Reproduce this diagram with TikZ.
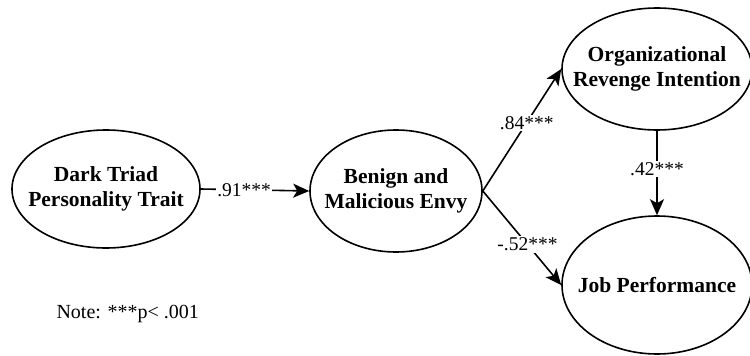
\documentclass[tikz,border=0pt]{standalone}
\usepackage{fontspec}
\setmainfont{Liberation Serif}
\usetikzlibrary{shapes.geometric, arrows.meta}

\begin{document}
\begin{tikzpicture}[x=1pt, y=-1pt,
  latent/.style={draw, ellipse, line width=1.6pt, inner xsep=-30pt, inner ysep=-15pt, align=center,
    font=\bfseries\fontsize{21.5}{25}\selectfont},
  link/.style={-{Stealth[length=16pt, width=14pt, inset=4pt]}, line width=1.6pt},
  coef/.style={fill=white, inner sep=1.5pt, font=\fontsize{19.5}{22}\selectfont}]
  \useasboundingbox (0,0) rectangle (750,356);
  \clip (0,0) rectangle (750,356);

  % constructs
  \node[latent, minimum width=188pt, minimum height=118pt] (dark) at (106,189) {Dark Triad\\Personality Trait};
  \node[latent, minimum width=172pt, minimum height=122pt] (envy) at (396,191) {Benign and\\Malicious Envy};
  \node[latent, minimum width=190pt, minimum height=122pt] (revenge) at (657,69) {Organizational\\Revenge Intention};
  \node[latent, minimum width=190pt, minimum height=138pt] (perf) at (657,285) {Job Performance};

  % paths
  \draw[link] (dark.east) -- (envy.west) node[coef, pos=0.4] {.91***};
  \draw[link] (envy.east) -- (revenge.west) node[coef, pos=0.56] {.84***};
  \draw[link] (envy.east) -- (perf.west) node[coef, pos=0.57] {-.52***};
  \draw[link] (revenge.south) -- (perf.north) node[coef, pos=0.45] {.42***};

  % note
  \node[anchor=base west, font=\fontsize{20}{24}\selectfont] (note) at (53,318) {Note: ***p< .001};
\end{tikzpicture}
\end{document}
